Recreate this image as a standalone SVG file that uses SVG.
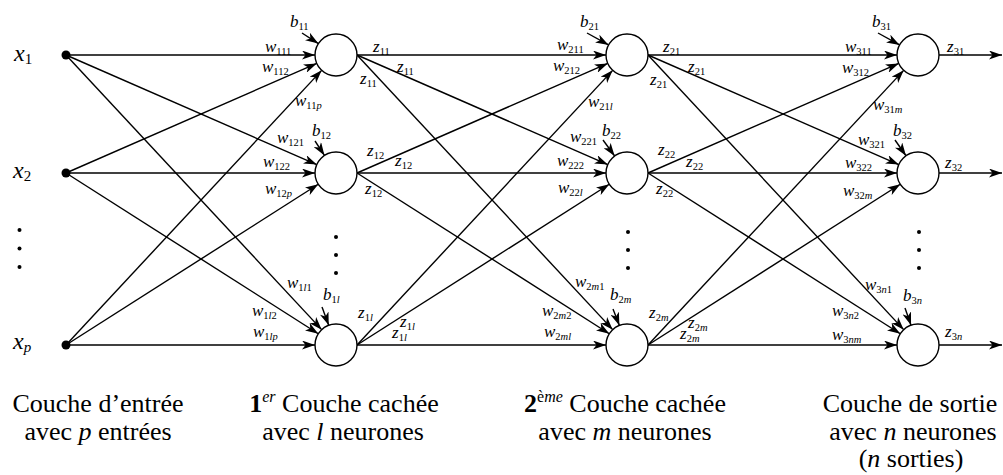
<svg xmlns="http://www.w3.org/2000/svg" width="1003" height="475" viewBox="0 0 1003 475">
  <style>
    .edge { stroke: #000; stroke-width: 1.4; fill: none; marker-end: url(#arrow); }
    .neuron { fill: #fff; stroke: #000; stroke-width: 1.4; }
    .dot { fill: #000; }
    .lbl { font-family: "Liberation Serif", "Times New Roman", serif; font-style: italic; font-size: 17px; fill: #000; }
    .xl { font-family: "Liberation Serif", "Times New Roman", serif; font-style: italic; font-size: 24px; fill: #000; }
    .sub { font-family: "Liberation Serif", serif; font-style: normal; font-size: 10.5px; }
    .xsub { font-family: "Liberation Serif", serif; font-style: normal; font-size: 15px; }
    .it { font-style: italic; }
    .cap { font-family: "Liberation Serif", "Times New Roman", serif; font-size: 26px; fill: #000; text-anchor: middle; }
    .mi { font-style: italic; }
    .sup { font-size: 16px; }
  </style>
  <defs>
    <marker id="arrow" markerUnits="userSpaceOnUse" viewBox="0 0 13 9" markerWidth="13" markerHeight="9" refX="13" refY="4.5" orient="auto">
      <path d="M0,0 L13,4.5 L0,9 L3.5,4.5 Z" fill="#000"/>
    </marker>
  </defs>

  <!-- connectors: weights, biases and outputs -->
  <g id="connectors">
    <!-- input layer to first hidden layer -->
    <line class="edge" x1="66" y1="55" x2="315" y2="55"/>
    <line class="edge" x1="66" y1="55" x2="316.76" y2="164.59"/>
    <line class="edge" x1="66" y1="55" x2="321.69" y2="329.63"/>
    <line class="edge" x1="66" y1="173" x2="316.76" y2="63.41"/>
    <line class="edge" x1="66" y1="173" x2="315" y2="173"/>
    <line class="edge" x1="66" y1="173" x2="318.29" y2="333.72"/>
    <line class="edge" x1="66" y1="345" x2="321.69" y2="70.37"/>
    <line class="edge" x1="66" y1="345" x2="318.29" y2="184.28"/>
    <line class="edge" x1="66" y1="345" x2="315" y2="345"/>
    <!-- first hidden layer to second hidden layer -->
    <line class="edge" x1="357" y1="55" x2="606" y2="55"/>
    <line class="edge" x1="357" y1="55" x2="607.76" y2="164.59"/>
    <line class="edge" x1="357" y1="55" x2="612.69" y2="329.63"/>
    <line class="edge" x1="357" y1="173" x2="607.76" y2="63.41"/>
    <line class="edge" x1="357" y1="173" x2="606" y2="173"/>
    <line class="edge" x1="357" y1="173" x2="609.29" y2="333.72"/>
    <line class="edge" x1="357" y1="345" x2="612.69" y2="70.37"/>
    <line class="edge" x1="357" y1="345" x2="609.29" y2="184.28"/>
    <line class="edge" x1="357" y1="345" x2="606" y2="345"/>
    <!-- second hidden layer to output layer -->
    <line class="edge" x1="648" y1="55" x2="897" y2="55"/>
    <line class="edge" x1="648" y1="55" x2="898.76" y2="164.59"/>
    <line class="edge" x1="648" y1="55" x2="903.69" y2="329.63"/>
    <line class="edge" x1="648" y1="173" x2="898.76" y2="63.41"/>
    <line class="edge" x1="648" y1="173" x2="897" y2="173"/>
    <line class="edge" x1="648" y1="173" x2="900.29" y2="333.72"/>
    <line class="edge" x1="648" y1="345" x2="903.69" y2="70.37"/>
    <line class="edge" x1="648" y1="345" x2="900.29" y2="184.28"/>
    <line class="edge" x1="648" y1="345" x2="897" y2="345"/>
    <!-- outputs -->
    <line class="edge" x1="939" y1="55" x2="1002" y2="55"/>
    <line class="edge" x1="939" y1="173" x2="1002" y2="173"/>
    <line class="edge" x1="939" y1="345" x2="1002" y2="345"/>
    <!-- biases -->
    <line class="edge" x1="302" y1="33" x2="318.37" y2="43.59"/>
    <line class="edge" x1="315" y1="141" x2="324.48" y2="155.44"/>
    <line class="edge" x1="322" y1="307" x2="328.74" y2="325.30"/>
    <line class="edge" x1="587" y1="33" x2="608.6" y2="44.88"/>
    <line class="edge" x1="603" y1="140" x2="614.65" y2="156.02"/>
    <line class="edge" x1="613" y1="309" x2="619.39" y2="325.43"/>
    <line class="edge" x1="878" y1="33" x2="899.6" y2="44.88"/>
    <line class="edge" x1="895" y1="140" x2="905.99" y2="155.77"/>
    <line class="edge" x1="905" y1="308" x2="911.04" y2="325.19"/>

    <!-- weight labels, input layer to first hidden layer -->
    <text class="lbl" x="265" y="52">w<tspan class="sub" dy="3">111</tspan></text>
    <text class="lbl" x="262" y="72">w<tspan class="sub" dy="3">112</tspan></text>
    <text class="lbl" x="295" y="106">w<tspan class="sub" dy="3">11<tspan class="it">p</tspan></tspan></text>
    <text class="lbl" x="277" y="143">w<tspan class="sub" dy="3">121</tspan></text>
    <text class="lbl" x="263" y="167">w<tspan class="sub" dy="3">122</tspan></text>
    <text class="lbl" x="265" y="194">w<tspan class="sub" dy="3">12<tspan class="it">p</tspan></tspan></text>
    <text class="lbl" x="287" y="288">w<tspan class="sub" dy="3">1<tspan class="it">l</tspan>1</tspan></text>
    <text class="lbl" x="252" y="316">w<tspan class="sub" dy="3">1<tspan class="it">l</tspan>2</tspan></text>
    <text class="lbl" x="253" y="337">w<tspan class="sub" dy="3">1<tspan class="it">lp</tspan></tspan></text>

    <!-- first hidden layer outputs and second layer weights -->
    <text class="lbl" x="373" y="52">z<tspan class="sub" dy="3">11</tspan></text>
    <text class="lbl" x="397" y="72">z<tspan class="sub" dy="3">11</tspan></text>
    <text class="lbl" x="360" y="84">z<tspan class="sub" dy="3">11</tspan></text>
    <text class="lbl" x="367" y="156">z<tspan class="sub" dy="3">12</tspan></text>
    <text class="lbl" x="395" y="166">z<tspan class="sub" dy="3">12</tspan></text>
    <text class="lbl" x="365" y="194">z<tspan class="sub" dy="3">12</tspan></text>
    <text class="lbl" x="358" y="318">z<tspan class="sub" dy="3">1<tspan class="it">l</tspan></tspan></text>
    <text class="lbl" x="400" y="327">z<tspan class="sub" dy="3">1<tspan class="it">l</tspan></tspan></text>
    <text class="lbl" x="392" y="338">z<tspan class="sub" dy="3">1<tspan class="it">l</tspan></tspan></text>
    <text class="lbl" x="557" y="50">w<tspan class="sub" dy="3">211</tspan></text>
    <text class="lbl" x="553" y="71">w<tspan class="sub" dy="3">212</tspan></text>
    <text class="lbl" x="588" y="107">w<tspan class="sub" dy="3">21<tspan class="it">l</tspan></tspan></text>
    <text class="lbl" x="570" y="142">w<tspan class="sub" dy="3">221</tspan></text>
    <text class="lbl" x="557" y="166">w<tspan class="sub" dy="3">222</tspan></text>
    <text class="lbl" x="558" y="193">w<tspan class="sub" dy="3">22<tspan class="it">l</tspan></tspan></text>
    <text class="lbl" x="575" y="287">w<tspan class="sub" dy="3">2<tspan class="it">m</tspan>1</tspan></text>
    <text class="lbl" x="542" y="316">w<tspan class="sub" dy="3">2<tspan class="it">m</tspan>2</tspan></text>
    <text class="lbl" x="544" y="337">w<tspan class="sub" dy="3">2<tspan class="it">ml</tspan></tspan></text>

    <!-- second hidden layer outputs and output layer weights -->
    <text class="lbl" x="663" y="52">z<tspan class="sub" dy="3">21</tspan></text>
    <text class="lbl" x="688" y="72">z<tspan class="sub" dy="3">21</tspan></text>
    <text class="lbl" x="650" y="85">z<tspan class="sub" dy="3">21</tspan></text>
    <text class="lbl" x="658" y="155">z<tspan class="sub" dy="3">22</tspan></text>
    <text class="lbl" x="686" y="167">z<tspan class="sub" dy="3">22</tspan></text>
    <text class="lbl" x="656" y="194">z<tspan class="sub" dy="3">22</tspan></text>
    <text class="lbl" x="649" y="318">z<tspan class="sub" dy="3">2<tspan class="it">m</tspan></tspan></text>
    <text class="lbl" x="688" y="328">z<tspan class="sub" dy="3">2<tspan class="it">m</tspan></tspan></text>
    <text class="lbl" x="680" y="339">z<tspan class="sub" dy="3">2<tspan class="it">m</tspan></tspan></text>
    <text class="lbl" x="845" y="52">w<tspan class="sub" dy="3">311</tspan></text>
    <text class="lbl" x="842" y="73">w<tspan class="sub" dy="3">312</tspan></text>
    <text class="lbl" x="873" y="110">w<tspan class="sub" dy="3">31<tspan class="it">m</tspan></tspan></text>
    <text class="lbl" x="858" y="145">w<tspan class="sub" dy="3">321</tspan></text>
    <text class="lbl" x="845" y="168">w<tspan class="sub" dy="3">322</tspan></text>
    <text class="lbl" x="843" y="196">w<tspan class="sub" dy="3">32<tspan class="it">m</tspan></tspan></text>
    <text class="lbl" x="865" y="290">w<tspan class="sub" dy="3">3<tspan class="it">n</tspan>1</tspan></text>
    <text class="lbl" x="832" y="316">w<tspan class="sub" dy="3">3<tspan class="it">n</tspan>2</tspan></text>
    <text class="lbl" x="832" y="340">w<tspan class="sub" dy="3">3<tspan class="it">nm</tspan></tspan></text>

    <!-- output labels -->
    <text class="lbl" x="947" y="52">z<tspan class="sub" dy="3">31</tspan></text>
    <text class="lbl" x="945" y="168">z<tspan class="sub" dy="3">32</tspan></text>
    <text class="lbl" x="945" y="337">z<tspan class="sub" dy="3">3<tspan class="it">n</tspan></tspan></text>
  </g>

  <!-- input layer -->
  <g id="input-x1">
    <circle class="dot" cx="66" cy="55" r="4.5"/>
    <text class="xl" x="14" y="61">x<tspan class="xsub" dy="3">1</tspan></text>
  </g>
  <g id="input-x2">
    <circle class="dot" cx="66" cy="173" r="4.5"/>
    <text class="xl" x="13" y="178">x<tspan class="xsub" dy="3">2</tspan></text>
  </g>
  <g id="input-ellipsis">
    <circle class="dot" cx="19.5" cy="230" r="2"/>
    <circle class="dot" cx="19.5" cy="248.5" r="2"/>
    <circle class="dot" cx="19.5" cy="267" r="2"/>
  </g>
  <g id="input-xp">
    <circle class="dot" cx="66" cy="345" r="4.5"/>
    <text class="xl" x="13" y="349">x<tspan class="xsub it" dy="3">p</tspan></text>
  </g>

  <!-- first hidden layer -->
  <g id="neuron-11">
    <circle class="neuron" cx="336" cy="55" r="21"/>
    <text class="lbl" x="290" y="27">b<tspan class="sub" dy="3">11</tspan></text>
  </g>
  <g id="neuron-12">
    <circle class="neuron" cx="336" cy="173" r="21"/>
    <text class="lbl" x="312" y="136">b<tspan class="sub" dy="3">12</tspan></text>
  </g>
  <g id="hidden1-ellipsis">
    <circle class="dot" cx="336" cy="237" r="2"/>
    <circle class="dot" cx="336" cy="255" r="2"/>
    <circle class="dot" cx="336" cy="273" r="2"/>
  </g>
  <g id="neuron-1l">
    <circle class="neuron" cx="336" cy="345" r="21"/>
    <text class="lbl" x="323" y="300">b<tspan class="sub" dy="3">1<tspan class="it">l</tspan></tspan></text>
  </g>

  <!-- second hidden layer -->
  <g id="neuron-21">
    <circle class="neuron" cx="627" cy="55" r="21"/>
    <text class="lbl" x="580" y="27">b<tspan class="sub" dy="3">21</tspan></text>
  </g>
  <g id="neuron-22">
    <circle class="neuron" cx="627" cy="173" r="21"/>
    <text class="lbl" x="602" y="136">b<tspan class="sub" dy="3">22</tspan></text>
  </g>
  <g id="hidden2-ellipsis">
    <circle class="dot" cx="628" cy="232" r="2"/>
    <circle class="dot" cx="628" cy="250" r="2"/>
    <circle class="dot" cx="628" cy="268" r="2"/>
  </g>
  <g id="neuron-2m">
    <circle class="neuron" cx="627" cy="345" r="21"/>
    <text class="lbl" x="610" y="300">b<tspan class="sub" dy="3">2<tspan class="it">m</tspan></tspan></text>
  </g>

  <!-- output layer -->
  <g id="neuron-31">
    <circle class="neuron" cx="918" cy="55" r="21"/>
    <text class="lbl" x="872" y="27">b<tspan class="sub" dy="3">31</tspan></text>
  </g>
  <g id="neuron-32">
    <circle class="neuron" cx="918" cy="173" r="21"/>
    <text class="lbl" x="893" y="136">b<tspan class="sub" dy="3">32</tspan></text>
  </g>
  <g id="output-ellipsis">
    <circle class="dot" cx="919" cy="232" r="2"/>
    <circle class="dot" cx="919" cy="250" r="2"/>
    <circle class="dot" cx="919" cy="268" r="2"/>
  </g>
  <g id="neuron-3n">
    <circle class="neuron" cx="918" cy="345" r="21"/>
    <text class="lbl" x="903" y="301">b<tspan class="sub" dy="3">3<tspan class="it">n</tspan></tspan></text>
  </g>

  <!-- layer captions -->
  <g id="captions">
    <text class="cap" x="98" y="412">Couche d’entrée</text>
    <text class="cap" x="98" y="440">avec <tspan class="mi">p</tspan> entrées</text>
    <text class="cap" x="344" y="412"><tspan font-weight="bold">1</tspan><tspan class="mi sup" dy="-10">er</tspan><tspan dy="10"> Couche cachée</tspan></text>
    <text class="cap" x="343" y="440">avec <tspan class="mi">l</tspan> neurones</text>
    <text class="cap" x="625" y="412"><tspan font-weight="bold">2</tspan><tspan class="sup" dy="-10">è<tspan class="mi">me</tspan></tspan><tspan dy="10"> Couche cachée</tspan></text>
    <text class="cap" x="625" y="440">avec <tspan class="mi">m</tspan> neurones</text>
    <text class="cap" x="910" y="412">Couche de sortie</text>
    <text class="cap" x="913" y="440">avec <tspan class="mi">n</tspan> neurones</text>
    <text class="cap" x="911" y="467">(<tspan class="mi">n</tspan> sorties)</text>
  </g>
</svg>
